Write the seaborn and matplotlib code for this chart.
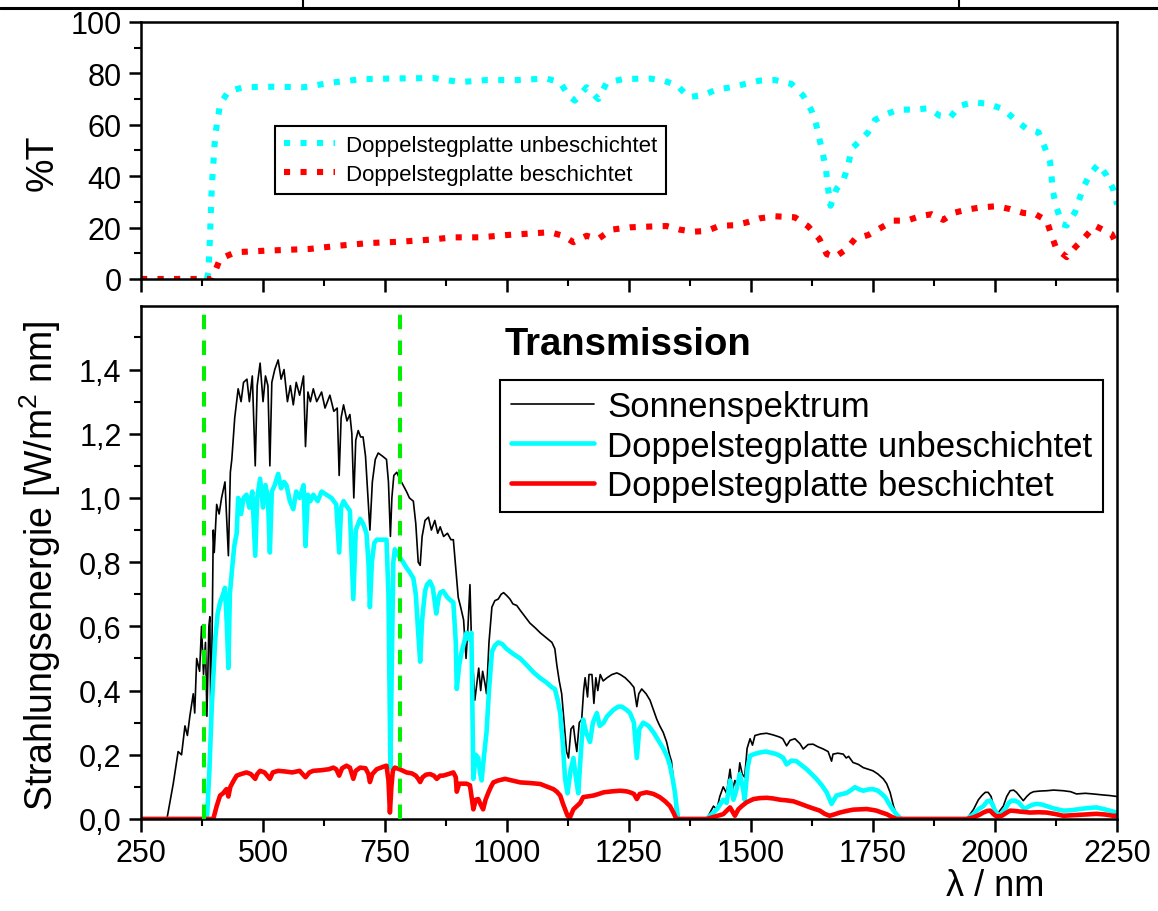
import matplotlib
matplotlib.use("Agg")
import matplotlib.pyplot as plt
import seaborn as sns
from matplotlib.lines import Line2D
from matplotlib.ticker import MultipleLocator, FuncFormatter

# --- top panel: transmission in %T
t_unb_wl = [250, 300, 350, 385, 388, 391, 395, 402, 412, 429, 460, 521, 583, 644, 705, 767,
            849, 904, 958, 1020, 1081, 1109, 1126, 1139, 1163, 1187, 1204, 1238, 1293, 1320,
            1348, 1372, 1402, 1430, 1460, 1488, 1518, 1549, 1583, 1607, 1624, 1634, 1641,
            1648, 1654, 1657, 1663, 1675, 1689, 1699, 1706, 1723, 1740, 1754, 1778, 1802,
            1832, 1863, 1887, 1908, 1928, 1956, 1986, 2017, 2041, 2065, 2089, 2102, 2113,
            2119, 2126, 2137, 2147, 2164, 2181, 2195, 2212, 2229, 2242, 2250]
t_unb = [0, 0, 0, 0, 2.6, 15, 36, 56, 68, 73, 74.6, 74.8, 74.6, 76.5, 77.8, 78,
         78.2, 76.6, 77.4, 77.4, 78, 76.5, 71.3, 69.4, 74.6, 70, 76.3, 77.8, 78, 77.2,
         75.5, 70.7, 71.6, 73.7, 74.6, 75.9, 77.2, 77.4, 75.9, 71.3, 65.5, 59.7, 53.8,
         48, 42.1, 36.3, 28.5, 35, 38.3, 44.1, 50.6, 53.8, 57.1, 61.9, 64.2, 65.9,
         65.9, 66.4, 63.5, 62.9, 67.4, 68.8, 68.1, 66.1, 62, 58.4, 57.1, 51.2, 45.4,
         33.7, 27.9, 21.4, 20.8, 26, 35.7, 40.9, 44.7, 40.2, 35, 29]

t_bes_wl = [250, 300, 350, 395, 398, 412, 443, 504, 596, 658, 719, 781, 842, 890, 945, 999,
            1033, 1088, 1115, 1136, 1163, 1187, 1214, 1252, 1306, 1327, 1354, 1382, 1409,
            1436, 1464, 1491, 1518, 1549, 1590, 1617, 1640, 1655, 1672, 1696, 1713, 1740,
            1764, 1792, 1819, 1846, 1870, 1894, 1915, 1942, 1973, 2003, 2031, 2058, 2082,
            2106, 2116, 2126, 2147, 2164, 2184, 2205, 2229, 2239, 2250]
t_bes = [0, 0, 0, 0, 1.3, 7.8, 10.4, 11, 11.7, 13, 14, 14.5, 15.3, 16.2, 16.2, 17.1,
         17.5, 18.2, 16.8, 14.3, 16.8, 15.6, 19.2, 20.1, 20.5, 20.6, 19.2, 18.4, 18.7,
         20.7, 20.9, 22, 23.6, 24.4, 24, 20.5, 15.6, 9.7, 8.5, 11.7, 15.6, 17.1,
         19.7, 22.7, 22.7, 24.4, 25.2, 23, 25.7, 27, 27.9, 28.3, 27.2, 25.7, 25.3,
         22.7, 16.8, 11.7, 8.5, 12.3, 16.2, 20.7, 18.4, 17.5, 13]

# --- bottom panel: spectral irradiance in W/(m^2 nm)
sun_wl = [250, 300, 303, 316, 326, 333, 340, 345, 350, 357, 360, 364, 370, 374, 378, 382,
          385, 389, 391, 393, 396, 398, 400, 405, 410, 415, 422, 429, 433, 436, 442, 449,
          455, 460, 467, 472, 478, 484, 488, 494, 500, 505, 510, 514, 518, 524, 531, 537,
          543, 550, 556, 562, 568, 575, 583, 587, 592, 597, 603, 610, 620, 627, 637, 645,
          652, 656, 660, 665, 672, 678, 682, 686, 690, 695, 700, 705, 710, 715, 719, 724,
          730, 736, 745, 753, 757, 761, 764, 768, 774, 780, 787, 794, 800, 808, 813, 818,
          822, 826, 832, 839, 845, 852, 858, 863, 870, 878, 885, 890, 895, 900, 905, 911,
          916, 920, 924, 927, 931, 934, 938, 942, 946, 950, 955, 958, 963, 969, 975, 982,
          988, 993, 1000, 1006, 1012, 1020, 1027, 1037, 1047, 1058, 1068, 1080, 1092, 1098,
          1102, 1107, 1112, 1117, 1122, 1126, 1131, 1136, 1140, 1143, 1148, 1153, 1157,
          1160, 1165, 1168, 1174, 1178, 1182, 1186, 1191, 1197, 1205, 1215, 1225, 1232,
          1242, 1252, 1260, 1266, 1270, 1276, 1285, 1293, 1300, 1307, 1313, 1320, 1327,
          1333, 1337, 1340, 1344, 1347, 1350, 1409, 1416, 1423, 1430, 1436, 1443, 1450,
          1457, 1462, 1467, 1472, 1477, 1482, 1487, 1492, 1498, 1503, 1508, 1520, 1532,
          1545, 1559, 1565, 1573, 1580, 1590, 1600, 1607, 1617, 1627, 1637, 1648, 1658,
          1665, 1668, 1678, 1689, 1695, 1700, 1709, 1720, 1730, 1740, 1750, 1760, 1771,
          1778, 1785, 1792, 1798, 1805, 1942, 1956, 1966, 1973, 1980, 1986, 1992, 1997,
          2002, 2007, 2012, 2017, 2024, 2031, 2038, 2044, 2051, 2058, 2065, 2072, 2079,
          2092, 2106, 2120, 2140, 2155, 2167, 2185, 2201, 2220, 2235, 2250]
sun = [0, 0, 0, 0.11, 0.21, 0.20, 0.29, 0.26, 0.32, 0.39, 0.33, 0.50, 0.46, 0.60, 0.45, 0.55,
       0.32, 0.60, 0.63, 0.29, 0.62, 0.90, 0.83, 0.98, 0.95, 1.00, 1.05, 0.82, 1.08, 1.12, 1.25, 1.34,
       1.30, 1.36, 1.37, 1.30, 1.38, 1.10, 1.35, 1.42, 1.30, 1.38, 1.35, 1.10, 1.36, 1.40, 1.43, 1.37,
       1.40, 1.30, 1.35, 1.29, 1.36, 1.32, 1.38, 1.16, 1.33, 1.30, 1.34, 1.30, 1.33, 1.28, 1.32, 1.27,
       1.28, 1.07, 1.25, 1.29, 1.24, 1.26, 1.20, 1.00, 1.18, 1.21, 1.19, 1.19, 1.13, 1.00, 0.90, 1.05,
       1.12, 1.14, 1.13, 1.12, 1.05, 0.88, 1.00, 1.07, 1.08, 1.06, 1.04, 1.02, 1.00, 0.99, 0.92, 0.80,
       0.79, 0.88, 0.93, 0.94, 0.90, 0.93, 0.89, 0.91, 0.88, 0.89, 0.87, 0.87, 0.78, 0.69, 0.66, 0.62,
       0.50, 0.60, 0.73, 0.56, 0.45, 0.37, 0.42, 0.47, 0.40, 0.46, 0.42, 0.39, 0.55, 0.66, 0.68, 0.685,
       0.70, 0.705, 0.695, 0.685, 0.67, 0.665, 0.65, 0.63, 0.61, 0.595, 0.58, 0.565, 0.55, 0.53,
       0.48, 0.43, 0.39, 0.30, 0.21, 0.19, 0.28, 0.29, 0.24, 0.21, 0.30, 0.31, 0.40,
       0.44, 0.38, 0.45, 0.45, 0.36, 0.44, 0.40, 0.45, 0.43, 0.44, 0.45, 0.455, 0.45,
       0.44, 0.425, 0.41, 0.35, 0.39, 0.405, 0.39, 0.37, 0.34, 0.31, 0.29, 0.27, 0.24,
       0.20, 0.18, 0.135, 0.06, 0.005, 0, 0, 0.02, 0.04, 0.03, 0.07, 0.10, 0.08,
       0.155, 0.09, 0.12, 0.10, 0.175, 0.14, 0.13, 0.22, 0.25, 0.23, 0.26, 0.265, 0.267,
       0.262, 0.255, 0.25, 0.228, 0.245, 0.25, 0.235, 0.218, 0.232, 0.233, 0.225, 0.218, 0.21,
       0.18, 0.202, 0.205, 0.202, 0.19, 0.195, 0.176, 0.17, 0.16, 0.155, 0.15, 0.14, 0.125,
       0.11, 0.083, 0.04, 0.015, 0, 0, 0.03, 0.06, 0.073, 0.083, 0.083, 0.07, 0.04,
       0.025, 0.02, 0.03, 0.04, 0.07, 0.088, 0.09, 0.083, 0.07, 0.057, 0.07, 0.08, 0.085,
       0.087, 0.088, 0.09, 0.088, 0.085, 0.078, 0.08, 0.078, 0.075, 0.073, 0.07]

unb_wl = [250, 385, 390, 395, 402, 407, 412, 418, 422, 426, 429, 432, 436, 441, 446, 449,
          455, 460, 466, 472, 478, 484, 488, 494, 500, 505, 510, 514, 518, 524, 531, 537,
          543, 548, 555, 562, 568, 575, 583, 587, 592, 597, 603, 612, 620, 630, 640, 650,
          656, 660, 665, 671, 678, 685, 690, 699, 705, 712, 716, 719, 723, 728, 733, 745,
          753, 757, 761, 764, 767, 770, 778, 787, 795, 800, 808, 813, 818, 822, 826, 832,
          836, 842, 848, 855, 860, 863, 869, 878, 885, 890, 895, 897, 902, 907, 912, 917,
          922, 927, 931, 936, 941, 945, 948, 953, 958, 963, 969, 975, 982, 990, 999, 1012,
          1027, 1040, 1054, 1067, 1081, 1092, 1098, 1104, 1109, 1114, 1119, 1124, 1130,
          1136, 1141, 1146, 1151, 1156, 1162, 1170, 1176, 1184, 1190, 1198, 1205, 1218,
          1228, 1235, 1245, 1252, 1260, 1266, 1271, 1279, 1290, 1300, 1310, 1320, 1328,
          1334, 1340, 1344, 1348, 1351, 1409, 1430, 1443, 1450, 1457, 1464, 1470, 1477,
          1483, 1487, 1493, 1498, 1508, 1518, 1530, 1539, 1550, 1559, 1566, 1573, 1583,
          1593, 1603, 1614, 1624, 1634, 1645, 1655, 1660, 1665, 1670, 1675, 1685, 1696,
          1705, 1713, 1722, 1730, 1740, 1750, 1760, 1768, 1775, 1781, 1788, 1795, 1802,
          1809, 1942, 1956, 1966, 1976, 1984, 1990, 1995, 2000, 2005, 2010, 2015, 2021,
          2028, 2034, 2041, 2048, 2055, 2061, 2068, 2076, 2086, 2096, 2106, 2120, 2140,
          2155, 2174, 2190, 2208, 2225, 2242, 2250]
unb = [0, 0, 0.15, 0.35, 0.56, 0.64, 0.675, 0.70, 0.72, 0.60, 0.47, 0.70, 0.77, 0.85, 0.89, 1.00,
       0.95, 1.00, 1.01, 0.97, 1.02, 0.82, 1.00, 1.06, 0.97, 1.04, 1.00, 0.83, 1.02, 1.04, 1.075, 1.03,
       1.05, 1.04, 0.99, 0.965, 1.02, 1.00, 1.04, 0.85, 1.01, 0.99, 1.01, 0.99, 1.02, 1.01, 1.00, 0.98,
       0.83, 0.97, 0.99, 0.975, 0.96, 0.685, 0.90, 0.935, 0.92, 0.89, 0.80, 0.66, 0.80, 0.86, 0.87, 0.87,
       0.87, 0.70, 0.16, 0.50, 0.80, 0.84, 0.82, 0.80, 0.78, 0.77, 0.75, 0.70, 0.58, 0.49, 0.62, 0.71,
       0.73, 0.74, 0.72, 0.64, 0.69, 0.705, 0.71, 0.69, 0.68, 0.675, 0.55, 0.405, 0.48, 0.52, 0.55, 0.58,
       0.56, 0.58, 0.125, 0.20, 0.19, 0.14, 0.12, 0.20, 0.27, 0.40, 0.52, 0.54, 0.55, 0.545, 0.53, 0.515,
       0.50, 0.48, 0.457, 0.44, 0.425, 0.41, 0.405, 0.37, 0.33, 0.24, 0.125, 0.08, 0.15,
       0.19, 0.13, 0.08, 0.20, 0.31, 0.27, 0.24, 0.30, 0.33, 0.29, 0.30, 0.32, 0.34,
       0.35, 0.35, 0.34, 0.33, 0.30, 0.19, 0.28, 0.30, 0.29, 0.27, 0.245, 0.22, 0.195,
       0.166, 0.12, 0.083, 0.03, 0, 0, 0.03, 0.06, 0.05, 0.12, 0.06, 0.09, 0.14,
       0.10, 0.06, 0.16, 0.197, 0.203, 0.207, 0.21, 0.207, 0.203, 0.197, 0.19, 0.17, 0.182,
       0.18, 0.168, 0.155, 0.14, 0.125, 0.105, 0.083, 0.065, 0.047, 0.06, 0.073, 0.077, 0.081,
       0.09, 0.099, 0.092, 0.088, 0.092, 0.093, 0.088, 0.078, 0.068, 0.052, 0.035, 0.02, 0.008,
       0, 0, 0.015, 0.03, 0.04, 0.055, 0.057, 0.045, 0.026, 0.015, 0.01, 0.02, 0.031,
       0.05, 0.057, 0.057, 0.052, 0.04, 0.031, 0.038, 0.044, 0.047, 0.045, 0.04, 0.033, 0.026,
       0.027, 0.031, 0.034, 0.036, 0.03, 0.023, 0.02]

bes_wl = [250, 398, 405, 412, 418, 425, 429, 433, 440, 446, 455, 466, 475, 484, 488, 494,
          503, 514, 520, 531, 545, 560, 575, 587, 595, 603, 620, 635, 644, 650, 656, 662,
          671, 678, 685, 690, 699, 710, 716, 719, 724, 733, 745, 753, 757, 760, 763, 766,
          770, 780, 794, 805, 813, 818, 822, 827, 834, 842, 850, 856, 863, 869, 880, 890,
          895, 897, 902, 910, 917, 924, 931, 936, 941, 946, 951, 956, 962, 967, 972, 982,
          996, 1010, 1027, 1047, 1068, 1083, 1095, 1102, 1109, 1114, 1119, 1124, 1129,
          1136, 1143, 1150, 1156, 1165, 1177, 1188, 1198, 1215, 1232, 1245, 1252, 1260,
          1266, 1272, 1286, 1300, 1313, 1324, 1334, 1341, 1347, 1409, 1443, 1457, 1467,
          1474, 1481, 1491, 1505, 1518, 1532, 1545, 1559, 1573, 1587, 1600, 1614, 1627,
          1641, 1651, 1661, 1670, 1682, 1696, 1709, 1722, 1737, 1750, 1757, 1768, 1778,
          1788, 1798, 1942, 1956, 1968, 1976, 1984, 1990, 1997, 2003, 2014, 2022, 2031,
          2041, 2051, 2072, 2090, 2106, 2125, 2140, 2174, 2208, 2225, 2242, 2250]
bes = [0, 0, 0.04, 0.073, 0.08, 0.093, 0.07, 0.10, 0.12, 0.135, 0.14, 0.145, 0.14, 0.125, 0.14, 0.15,
       0.145, 0.125, 0.145, 0.15, 0.148, 0.145, 0.15, 0.13, 0.145, 0.15, 0.152, 0.155, 0.16, 0.155, 0.135, 0.158,
       0.166, 0.16, 0.125, 0.15, 0.16, 0.158, 0.14, 0.115, 0.14, 0.155, 0.162, 0.166, 0.12, 0.02, 0.10, 0.15,
       0.16, 0.155, 0.145, 0.142, 0.135, 0.125, 0.115, 0.13, 0.138, 0.14, 0.135, 0.125, 0.135, 0.135, 0.14, 0.145,
       0.13, 0.085, 0.11, 0.11, 0.11, 0.105, 0.03, 0.06, 0.062, 0.045, 0.03, 0.06, 0.083, 0.10, 0.114, 0.12,
       0.125, 0.12, 0.114, 0.112, 0.109, 0.10, 0.093, 0.085, 0.073, 0.05, 0.03, 0.01, 0.005,
       0.03, 0.04, 0.05, 0.068, 0.07, 0.073, 0.078, 0.083, 0.086, 0.088, 0.086, 0.083, 0.078,
       0.062, 0.078, 0.083, 0.078, 0.068, 0.055, 0.04, 0.02, 0, 0, 0.015, 0.036, 0.01,
       0.03, 0.04, 0.052, 0.062, 0.065, 0.066, 0.064, 0.06, 0.058, 0.055, 0.048, 0.04, 0.033,
       0.026, 0.016, 0.01, 0.014, 0.02, 0.025, 0.029, 0.03, 0.031, 0.028, 0.026, 0.02, 0.015,
       0.007, 0, 0, 0.005, 0.013, 0.02, 0.025, 0.026, 0.015, 0.008, 0.01, 0.018, 0.026,
       0.025, 0.023, 0.02, 0.021, 0.02, 0.015, 0.01, 0.013, 0.016, 0.014, 0.01, 0.01]

vis_limits = [380, 780]
x_ticks = [250, 500, 750, 1000, 1250, 1500, 1750, 2000, 2250]
t_ticks = [0, 20, 40, 60, 80, 100]
e_ticks = [0.0, 0.2, 0.4, 0.6, 0.8, 1.0, 1.2, 1.4]

label_unb = "Doppelstegplatte unbeschichtet"
label_bes = "Doppelstegplatte beschichtet"
label_sun = "Sonnenspektrum"

sns.set_theme(style="ticks")
plt.rcParams['font.family'] = ['Liberation Sans', 'DejaVu Sans']
plt.rcParams['mathtext.fontset'] = 'custom'
plt.rcParams['mathtext.rm'] = 'Liberation Sans'
plt.rcParams['text.color'] = 'black'
plt.rcParams['axes.labelcolor'] = 'black'
plt.rcParams['xtick.color'] = 'black'
plt.rcParams['ytick.color'] = 'black'
plt.rcParams['legend.labelcolor'] = 'black'

CYAN = "#00FFFF"
RED = "#FF0000"
GREEN = "#00F000"

fig = plt.figure(figsize=(11.58, 9.12), dpi=100)
ax1 = fig.add_axes([0.1218, 0.693, 0.8428, 0.2818])
ax2 = fig.add_axes([0.1218, 0.1009, 0.8428, 0.5625])

# top panel
sns.lineplot(x=t_unb_wl, y=t_unb, ax=ax1, color=CYAN, linewidth=4.4,
             linestyle=(0, (1, 1.7)), estimator=None, label=label_unb)
sns.lineplot(x=t_bes_wl, y=t_bes, ax=ax1, color=RED, linewidth=4.4,
             linestyle=(0, (1, 1.7)), estimator=None, label=label_bes)
ax1.set_xlim(250, 2250)
ax1.set_ylim(0, 100)
ax1.set_xticks(x_ticks)
ax1.set_yticks(t_ticks)
ax1.xaxis.set_minor_locator(MultipleLocator(125))
ax1.yaxis.set_minor_locator(MultipleLocator(10))
ax1.tick_params(axis='x', labelbottom=False)
ax1.set_xlabel("")
ax1.set_ylabel("")
leg1 = ax1.legend(loc='upper left', bbox_to_anchor=(0.137, 0.595), borderaxespad=0,
                  fontsize=16, frameon=True, fancybox=False, edgecolor='black',
                  handlelength=2.3, handletextpad=0.5, labelspacing=0.35,
                  borderpad=0.4, framealpha=1)
leg1.get_frame().set_linewidth(1.5)

# bottom panel
sns.lineplot(x=sun_wl, y=sun, ax=ax2, color='black', linewidth=1.2,
             estimator=None, label=label_sun)
sns.lineplot(x=unb_wl, y=unb, ax=ax2, color=CYAN, linewidth=3.3,
             estimator=None, label=label_unb)
sns.lineplot(x=bes_wl, y=bes, ax=ax2, color=RED, linewidth=3.3,
             estimator=None, label=label_bes)
for wl in vis_limits:
    ax2.axvline(wl, color=GREEN, linewidth=2.9, linestyle=(0, (3.6, 2.8)), zorder=5)
ax2.set_xlim(250, 2250)
ax2.set_ylim(0, 1.598)
ax2.set_xticks(x_ticks)
ax2.set_yticks(e_ticks)
ax2.xaxis.set_minor_locator(MultipleLocator(125))
ax2.yaxis.set_minor_locator(MultipleLocator(0.1))
ax2.yaxis.set_major_formatter(FuncFormatter(lambda v, p: f"{v:.1f}".replace('.', ',')))
ax2.set_xlabel("")
ax2.set_ylabel("")
ax2.text(0.499, 0.926, "Transmission", transform=ax2.transAxes, ha='center',
         va='center', fontsize=27.5, fontweight='bold')
leg2 = ax2.legend(loc='upper left', bbox_to_anchor=(0.368, 0.856), borderaxespad=0,
                  fontsize=25, frameon=True, fancybox=False, edgecolor='black',
                  handlelength=2.4, handletextpad=0.38, labelspacing=0.18,
                  borderpad=0.3, framealpha=1)
leg2.get_frame().set_linewidth(1.5)

for ax in (ax1, ax2):
    for s in ax.spines.values():
        s.set_linewidth(1.8)
        s.set_color('black')
    ax.tick_params(which='major', direction='out', length=9, width=1.8,
                   labelsize=22, colors='black', pad=5)
    ax.tick_params(which='minor', direction='out', length=5, width=1.5, colors='black')
    ax.tick_params(top=False, right=False, which='both')

fig.text(43 / 1158, 1 - 163 / 912, "%T", rotation=90, ha='center', va='center', fontsize=27)
fig.text(40 / 1158, 1 - 566 / 912, "Strahlungsenergie [W/m$^2$ nm]", rotation=90,
         ha='center', va='center', fontsize=27)
fig.text(995 / 1158, 1 - 887 / 912, "λ / nm", ha='center', va='center', fontsize=26)

# cut-off table border at the very top
y_line = 1 - 8.5 / 912
fig.add_artist(Line2D([0, 1], [y_line, y_line], transform=fig.transFigure, color='black', lw=2.2))
for xv in (303 / 1158, 959 / 1158):
    fig.add_artist(Line2D([xv, xv], [y_line, 1], transform=fig.transFigure, color='black', lw=1.5))

fig.savefig("out.png", dpi=100)
